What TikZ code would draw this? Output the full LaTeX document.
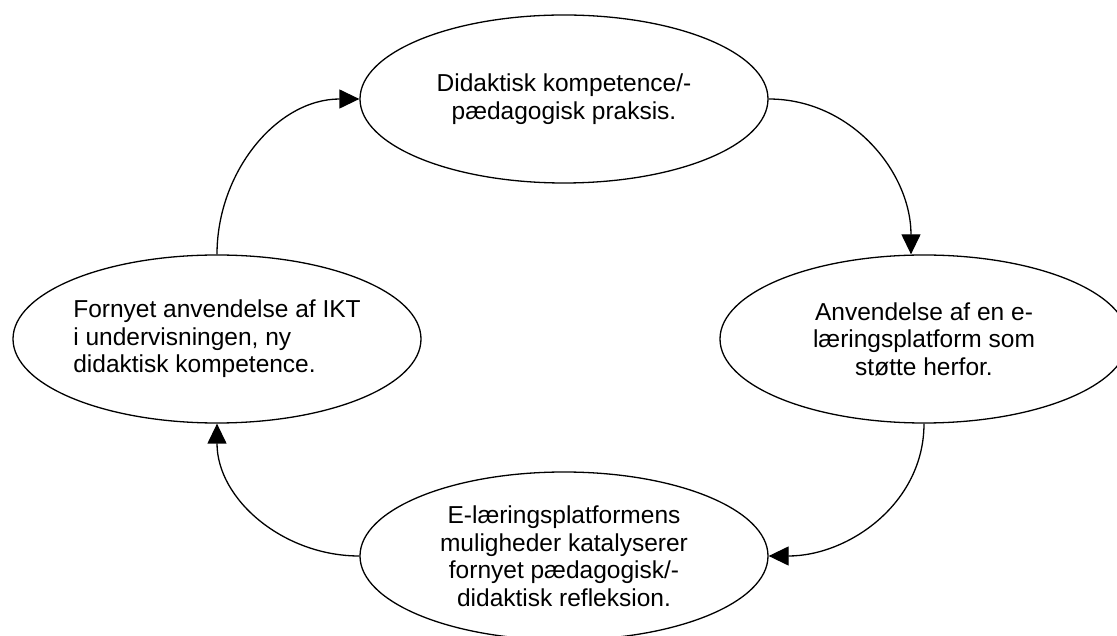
\documentclass[tikz,border=0pt]{standalone}
\usepackage{fontspec}
\setmainfont{Liberation Sans}
\usetikzlibrary{positioning, arrows.meta, shapes.geometric}

\begin{document}
\begin{tikzpicture}[
    >={Triangle[length=20pt, width=19pt]},
    on grid,
    every node/.style={font=\fontsize{24.5pt}{27.5pt}\selectfont},
    phase/.style={ellipse, draw, line width=1.3pt, minimum width=408pt, minimum height=168pt, inner sep=0pt, align=center},
    cycle/.style={->, line width=1.3pt}
]
\useasboundingbox (0,0) rectangle (1117pt,635pt);

% -------------------------
% PHASES
% -------------------------
\node[phase] (Didaktik) at (564pt,536pt) {
    Didaktisk kompetence/-\\
    pædagogisk praksis.
};

\node[phase] (Anvendelse) [below right=240pt and 360pt of Didaktik] {
    Anvendelse af en e-\\
    læringsplatform som\\
    støtte herfor.
};

\node[phase] (Katalyse) [below=457pt of Didaktik] {
    E-læringsplatformens\\
    muligheder katalyserer\\
    fornyet pædagogisk/-\\
    didaktisk refleksion.
};

\node[phase, align=left] (Fornyet) [below left=240pt and 347pt of Didaktik] {
    Fornyet anvendelse af IKT\\
    i undervisningen, ny\\
    didaktisk kompetence.
};

% -------------------------
% CYCLE
% -------------------------
\path[cycle]
(Didaktik.east) edge [out=0, in=90] ([xshift=-13pt]Anvendelse.north)
(Anvendelse.south) edge [out=-90, in=0] (Katalyse.east)
(Katalyse.west) edge [out=180, in=-90] (Fornyet.south)
(Fornyet.north) edge [out=90, in=180] (Didaktik.west);

\end{tikzpicture}
\end{document}
